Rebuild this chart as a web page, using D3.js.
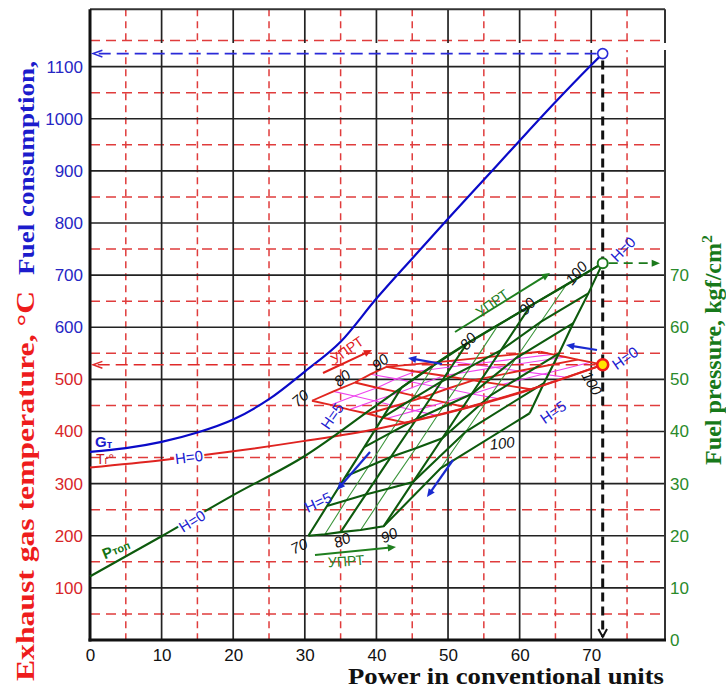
<!DOCTYPE html>
<html><head><meta charset="utf-8">
<script src="https://cdn.jsdelivr.net/npm/d3@7"></script>
<style>body{margin:0;background:#fff} svg{display:block}</style>
</head><body><svg id="chart" width="726" height="693"></svg>
<script>
// ---- data -------------------------------------------------------------
const powerTicks = [0, 10, 20, 30, 40, 50, 60, 70];
const flowTicks = [100, 200, 300, 400, 500, 600, 700, 800, 900, 1000, 1100];
const pressureTicks = [0, 10, 20, 30, 40, 50, 60, 70];

// fuel consumption Gт (H=0)
const gtPower = [0, 5, 10, 15, 20, 25, 30, 35, 40, 45, 50, 55, 60, 65, 70, 71.6];
const gtFlow  = [361, 368, 380, 398, 423, 462, 515, 572, 655, 732, 808, 883, 958, 1032, 1103, 1125];
// exhaust gas temperature Tг (H=0), °C
const tgPower = [0, 10, 20, 30, 40, 50, 60, 71.6];
const tgTemp  = [331, 345, 362, 382, 405, 436, 474, 528];
// fuel pressure Pтоп (H=0), kgf/cm²
const ptPower    = [0, 10, 20, 30, 40, 50, 60, 71.6];
const ptPressure = [12.2, 19.9, 27.8, 35.3, 45.0, 54.6, 62.9, 72.3];

// carpet grids: rows = altitude H, columns = УПРТ setting
const rackSettings = [70, 75, 80, 85, 90, 95, 100];
const altitudes = [0, 1, 2, 3, 4, 5];

const pressureCarpetPower = [
  [43.5, 48.0, 52.6, 57.0, 61.5, 66.5, 71.6],
  [40.9, 45.0, 49.1, 53.2, 57.4, 63.0, 69.6],
  [38.3, 41.9, 45.6, 49.3, 53.3, 59.5, 67.5],
  [35.7, 38.9, 42.0, 45.5, 49.2, 56.0, 65.5],
  [33.1, 35.8, 38.5, 41.6, 45.1, 52.5, 63.4],
  [30.5, 32.8, 35.0, 37.8, 41.0, 49.0, 61.4]
];
const pressureCarpetValue = [
  [48.4, 52.7, 56.8, 60.4, 64.1, 68.1, 72.3],
  [42.7, 46.2, 49.6, 52.5, 55.6, 61.1, 66.5],
  [37.0, 39.7, 42.4, 44.7, 47.2, 54.1, 60.8],
  [31.4, 33.3, 35.1, 36.8, 38.7, 47.0, 55.0],
  [25.7, 26.8, 27.9, 29.0, 30.3, 40.0, 49.3],
  [20.0, 20.3, 20.7, 21.1, 21.8, 33.0, 43.5]
];
const tempCarpetPower = [
  [44.0, 48.3, 52.6, 57.0, 61.5, 66.5, 71.6],
  [41.4, 45.4, 49.5, 53.4, 57.5, 63.2, 69.9],
  [38.8, 42.6, 46.4, 49.9, 53.5, 59.9, 68.1],
  [36.2, 39.7, 43.2, 46.3, 49.4, 56.6, 66.4],
  [33.6, 36.9, 40.1, 42.8, 45.4, 53.3, 64.6],
  [31.0, 34.0, 37.0, 39.2, 41.4, 50.0, 62.9]
];
const tempCarpetValue = [
  [417, 431, 446, 463, 481, 504, 528],
  [425, 440, 456, 472, 490, 510, 533],
  [434, 449, 465, 482, 498, 516, 538],
  [442, 459, 475, 491, 507, 523, 543],
  [451, 468, 484, 501, 515, 529, 548],
  [459, 477, 494, 510, 524, 535, 553]
];

// rated point
const ratedPower = 71.6;
const ratedFlow = 1125;
const ratedTemp = 528;
const ratedPressure = 72.3;

// ---- scales -------------------------------------------------------------
const x  = d3.scaleLinear().domain([0, 80.3]).range([90, 665]);
const yL = d3.scaleLinear().domain([0, 1210]).range([640, 9.3]);
const yR = d3.scaleLinear().domain([0, 121]).range([640, 9.3]);

const svg = d3.select('#chart');
const SANS = "'Liberation Sans', Arial, sans-serif";
const SERIF = "'Liberation Serif', 'Times New Roman', serif";
const BLUE = '#1c1ccc', DKGREEN = '#0d5a0d';

// ---- grid -------------------------------------------------------------
const grid = svg.append('g');
const x0 = x(0), x1 = x.range()[1], yb = yL(0), yt = yL.range()[1];

// red dashed half-step grid
[5, 15, 25, 35, 45, 55, 65, 75].forEach(v => {
  grid.append('line').attr('x1', x(v)).attr('x2', x(v)).attr('y1', yt).attr('y2', yb)
    .attr('stroke', '#e03c3c').attr('stroke-width', 1.5).attr('stroke-dasharray', '7,5');
});
[50, 150, 250, 350, 450, 550, 650, 750, 850, 950, 1050, 1150].forEach(v => {
  grid.append('line').attr('x1', x0).attr('x2', x1).attr('y1', yL(v)).attr('y2', yL(v))
    .attr('stroke', '#e03c3c').attr('stroke-width', 1.5).attr('stroke-dasharray', '10,6');
});
// black main grid
powerTicks.slice(1).forEach(v => {
  grid.append('line').attr('x1', x(v)).attr('x2', x(v)).attr('y1', yt).attr('y2', yb)
    .attr('stroke', '#222').attr('stroke-width', 1.7);
});
flowTicks.forEach(v => {
  grid.append('line').attr('x1', x0).attr('x2', x1).attr('y1', yL(v)).attr('y2', yL(v))
    .attr('stroke', '#222').attr('stroke-width', 1.7);
});
// frame
grid.append('line').attr('x1', x0).attr('x2', x1).attr('y1', yt).attr('y2', yt).attr('stroke', '#333').attr('stroke-width', 2);
grid.append('line').attr('x1', x1).attr('x2', x1).attr('y1', yt).attr('y2', yb).attr('stroke', '#333').attr('stroke-width', 2);
grid.append('rect').attr('x', 86).attr('y', 43).attr('width', 590).attr('height', 7).attr('fill', '#fff');
grid.append('line').attr('x1', x0).attr('x2', x0).attr('y1', yt).attr('y2', yb + 1.5).attr('stroke', '#111').attr('stroke-width', 3);
grid.append('line').attr('x1', x0 - 1.5).attr('x2', x1 + 1).attr('y1', yb).attr('y2', yb).attr('stroke', '#111').attr('stroke-width', 3);

// ---- axes labels ------------------------------------------------------
const axB = svg.append('g').attr('transform', `translate(0,${yb})`)
  .call(d3.axisBottom(x).tickValues(powerTicks).tickSize(0).tickPadding(9));
axB.select('.domain').remove();
axB.selectAll('text').attr('font-family', SANS).attr('font-size', 17).attr('fill', '#111');

const axL = svg.append('g').attr('transform', `translate(${x0},0)`)
  .call(d3.axisLeft(yL).tickValues(flowTicks).tickFormat(d3.format('d')).tickSize(0).tickPadding(7));
axL.select('.domain').remove();
axL.selectAll('text').attr('font-family', SANS).attr('font-size', 17)
  .attr('fill', d => d <= 500 ? '#d8262a' : '#2626c4');

const axR = svg.append('g').attr('transform', `translate(${x1},0)`)
  .call(d3.axisRight(yR).tickValues(pressureTicks).tickSize(0).tickPadding(5));
axR.select('.domain').remove();
axR.selectAll('text').attr('font-family', SANS).attr('font-size', 17).attr('fill', '#2a8a2a');

// titles
function title(txt, tx, ty, rot, color, len, size) {
  svg.append('text').attr('transform', `translate(${tx},${ty}) rotate(${rot})`).attr('text-anchor', 'middle')
    .attr('font-family', SERIF).attr('font-weight', 'bold').attr('font-size', size).attr('fill', color)
    .attr('textLength', len).attr('lengthAdjust', 'spacingAndGlyphs').html(txt);
}
title('Fuel consumption,', 34, 168, -90, BLUE, 214, 24);
title('Exhaust gas temperature, °C', 34, 486, -90, '#ee1c1c', 390, 25);
title('Fuel pressure, kgf/cm<tspan dy="-9" font-size="15">2</tspan>', 721, 350, -90, '#17791a', 230, 23);
title('Power in conventional units', 506, 684, 0, '#111', 316, 24);

// ---- carpets ------------------------------------------------------------
const lineLin = d3.line();
function drawCarpet(P, V, yScale, thinColor, thickColor, thinW, thickW, thickRowTest) {
  const g = svg.append('g').attr('fill', 'none');
  const rows = altitudes.map((h, i) => ({ h, pts: rackSettings.map((u, j) => [x(P[i][j]), yScale(V[i][j])]) }));
  const cols = rackSettings.map((u, j) => ({ u, pts: altitudes.map((h, i) => [x(P[i][j]), yScale(V[i][j])]) }));
  const thinRows = rows.filter(r => !thickRowTest(r.h));
  const thickRows = rows.filter(r => thickRowTest(r.h));
  const thinCols = cols.filter(c => c.u % 10 !== 0);
  const thickCols = cols.filter(c => c.u % 10 === 0);
  [...thinRows, ...thinCols].forEach(r => g.append('path').attr('d', lineLin(r.pts))
    .attr('stroke', thinColor).attr('stroke-width', thinW));
  [...thickRows, ...thickCols].forEach(r => g.append('path').attr('d', lineLin(r.pts))
    .attr('stroke', thickColor).attr('stroke-width', thickW));
  return g;
}
drawCarpet(tempCarpetPower, tempCarpetValue, yL, '#ee44ee', '#e1261f', 1.1, 1.9, h => h === 0 || h === 5 || h === 2);
drawCarpet(pressureCarpetPower, pressureCarpetValue, yR, '#3b953b', DKGREEN, 1.1, 2.1, h => true);

// ---- main curves ------------------------------------------------------
const curve = d3.line().curve(d3.curveMonotoneX);
svg.append('path').attr('d', curve(tgPower.map((p, i) => [x(p), yL(tgTemp[i])])))
  .attr('fill', 'none').attr('stroke', '#df2320').attr('stroke-width', 2);
svg.append('path').attr('d', curve(ptPower.map((p, i) => [x(p), yR(ptPressure[i])])))
  .attr('fill', 'none').attr('stroke', DKGREEN).attr('stroke-width', 2.1);
svg.append('path').attr('d', curve(gtPower.map((p, i) => [x(p), yL(gtFlow[i])])))
  .attr('fill', 'none').attr('stroke', '#0a0ac8').attr('stroke-width', 2.2);

// ---- guide arrows -------------------------------------------------------
function arrow(x1, y1, x2, y2, o) {
  const g = svg.append('g');
  const a = Math.atan2(y2 - y1, x2 - x1);
  const h = o.head || 9, s = o.spread || 0.42;
  const ex = o.open ? x2 : x2 - h * 0.6 * Math.cos(a), ey = o.open ? y2 : y2 - h * 0.6 * Math.sin(a);
  g.append('line').attr('x1', x1).attr('y1', y1).attr('x2', ex).attr('y2', ey)
    .attr('stroke', o.color).attr('stroke-width', o.width || 2)
    .attr('stroke-dasharray', o.dash || null);
  const p1 = [x2 - h * Math.cos(a - s), y2 - h * Math.sin(a - s)];
  const p2 = [x2 - h * Math.cos(a + s), y2 - h * Math.sin(a + s)];
  if (o.open) {
    g.append('path').attr('d', `M${p1}L${x2},${y2}L${p2}`).attr('fill', 'none')
      .attr('stroke', o.color).attr('stroke-width', o.headWidth || 1.5);
  } else {
    g.append('path').attr('d', `M${p1}L${x2},${y2}L${p2}Z`).attr('fill', o.color);
  }
}
const rx = x(ratedPower);
arrow(rx - 6, yL(ratedFlow), x0 + 3, yL(ratedFlow), { color: '#2a2ad8', width: 1.6, dash: '12,6', open: true, head: 10, spread: 0.35 });
arrow(rx - 7, yL(ratedTemp), x0 + 3, yL(ratedTemp), { color: '#e02a2a', width: 1.6, dash: '12,6', open: true, head: 10, spread: 0.35 });
arrow(rx + 6, yR(ratedPressure), 660, yR(ratedPressure), { color: '#1c7a1c', width: 1.6, dash: '9,6', head: 9, spread: 0.4 });
arrow(rx, yL(ratedFlow) + 7, rx, yb - 3, { color: '#111', width: 3, dash: '9,5', open: true, head: 9, spread: 0.5, headWidth: 2 });

// УПРТ arrows
arrow(323, 373, 372, 350, { color: '#e0201c', width: 2, head: 9 });
arrow(455, 332, 550, 273, { color: '#1f7f1f', width: 2, head: 9 });
arrow(315, 555, 396, 547, { color: '#1f7f1f', width: 2, head: 9 });
// altitude direction arrows
arrow(442, 364, 408, 358, { color: '#1a2ad0', width: 2.2, head: 9 });
arrow(597, 350, 566, 345, { color: '#1a2ad0', width: 2.2, head: 9 });
arrow(370, 452, 337, 490, { color: '#1a2ad0', width: 2.2, head: 9 });
arrow(453, 460, 427, 497, { color: '#1a2ad0', width: 2.2, head: 9 });

// rated point markers
svg.append('circle').attr('cx', rx).attr('cy', yL(ratedFlow)).attr('r', 5)
  .attr('fill', '#fff').attr('stroke', '#2a2ad8').attr('stroke-width', 1.6);
svg.append('circle').attr('cx', rx).attr('cy', yR(ratedPressure)).attr('r', 5)
  .attr('fill', '#fff').attr('stroke', '#1c7a1c').attr('stroke-width', 2);
svg.append('circle').attr('cx', rx).attr('cy', yL(ratedTemp)).attr('r', 5.5)
  .attr('fill', '#ffe400').attr('stroke', '#f01a1a').attr('stroke-width', 2.6);

// ---- annotations ------------------------------------------------------
function label(txt, cx, cy, rot, o) {
  const t = svg.append('text').attr('transform', `translate(${cx},${cy}) rotate(${rot})`)
    .attr('text-anchor', 'middle').attr('dominant-baseline', 'central')
    .attr('font-family', SANS).attr('font-size', o.size || 14).attr('fill', o.color)
    .attr('font-style', o.italic ? 'italic' : null).attr('font-weight', o.bold ? 'bold' : null);
  if (o.halo) t.attr('stroke', '#fff').attr('stroke-width', 4).attr('paint-order', 'stroke');
  t.html(txt);
  return t;
}
// curve names
svg.append('text').attr('x', 95).attr('y', 447).attr('font-family', SANS).attr('font-weight', 'bold')
  .attr('font-size', 15).attr('fill', '#1c1ccc').html('G<tspan font-size="11" dy="1">т</tspan>');
svg.append('text').attr('x', 96).attr('y', 464).attr('font-family', SANS)
  .attr('font-size', 14).attr('fill', '#c8201c').html('T<tspan font-size="11">г</tspan>°');
label('P<tspan font-size="11" dy="1">топ</tspan>', 116, 549, -22, { color: '#137313', bold: true, size: 15 });
label('H=0', 189, 457, -7, { color: '#2020d0', size: 15, halo: true });
label('H=0', 192, 521, -32, { color: '#2020d0', size: 15, halo: true });

// altitude labels
label('H=0', 623, 249, -45, { color: '#2020d0', size: 15 });
label('H=0', 625, 358, -35, { color: '#2020d0', size: 15 });
label('H=5', 553, 412, -35, { color: '#2020d0', size: 15 });
label('H=5', 332, 416, -55, { color: '#2020d0', size: 15 });
label('H=5', 318, 502, -25, { color: '#2020d0', size: 15 });

// УПРТ labels
label('УПРТ', 347, 350, -35, { color: '#e0201c', size: 14 });
label('УПРТ', 492, 303, -35, { color: '#1f7f1f', size: 14 });
label('УПРТ', 346, 561, -4, { color: '#1f7f1f', size: 14 });

// УПРТ setting values
const numStyle = { color: '#111', italic: true, size: 15 };
label('70', 300, 398, -40, numStyle);
label('80', 342, 378, -40, numStyle);
label('90', 380, 362, -40, numStyle);
label('80', 468, 341, -50, numStyle);
label('90', 527, 306, -50, numStyle);
label('100', 576, 273, -50, numStyle);
label('70', 299, 546, -25, numStyle);
label('80', 342, 540, -25, numStyle);
label('90', 389, 535, -25, numStyle);
label('100', 592, 383, 60, numStyle);
label('100', 502, 443, -6, numStyle);
</script></body></html>
